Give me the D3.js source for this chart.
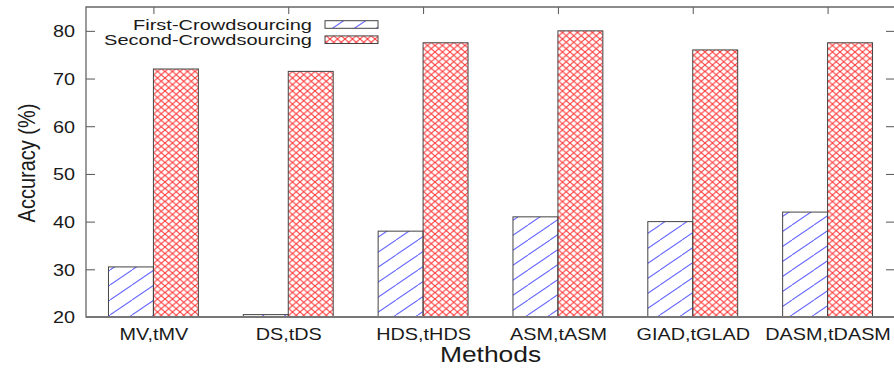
<!DOCTYPE html>
<html>
<head>
<meta charset="utf-8">
<script src="https://cdn.jsdelivr.net/npm/d3@7"></script>
<style>
  html, body { margin: 0; padding: 0; background: #fff; }
  svg { display: block; }
  text { font-family: "Liberation Sans", Arial, Helvetica, sans-serif; fill: #1a1a1a; }
</style>
</head>
<body>
<svg id="chart" width="894" height="368"></svg>
<script>
// Accuracy of each method pair, first vs. second crowdsourcing round
const methods = ["MV,tMV", "DS,tDS", "HDS,tHDS", "ASM,tASM", "GIAD,tGLAD", "DASM,tDASM"];
const firstRound = [30.5, 20.5, 38, 41, 40, 42];
const secondRound = [72, 71.5, 77.5, 80, 76, 77.5];
const seriesNames = ["First-Crowdsourcing", "Second-Crowdsourcing"];
const yTicks = [20, 30, 40, 50, 60, 70, 80];

const svg = d3.select("#chart");
const plotLeft = 86, plotRight = 895, plotTop = 7, plotBottom = 317;

const x = d3.scaleLinear().domain([-0.5, methods.length - 0.5]).range([plotLeft, plotRight]);
const y = d3.scaleLinear().domain([20, 85]).range([plotBottom, plotTop]);
const barW = (x(1) - x(0)) / 3;

// fill patterns: blue single hatch and red cross hatch
const defs = svg.append("defs");
const hatch = defs.append("pattern").attr("id", "hatchBlue")
  .attr("patternUnits", "userSpaceOnUse").attr("width", 22).attr("height", 15);
hatch.append("path")
  .attr("d", "M-22,15 L0,0 M0,15 L22,0 M22,15 L44,0")
  .attr("stroke", "#6a6aff").attr("stroke-width", 1.1).attr("fill", "none");

const cross = defs.append("pattern").attr("id", "crossRed")
  .attr("patternUnits", "userSpaceOnUse").attr("width", 7.5).attr("height", 6.5);
cross.append("path")
  .attr("d", "M0,0 L7.5,6.5 M0,6.5 L7.5,0")
  .attr("stroke", "#ff3b3b").attr("stroke-width", 1.1).attr("fill", "none");

const fills = ["url(#hatchBlue)", "url(#crossRed)"];
const textStretch = 1.24;

// axes with inward ticks
const gl = svg.append("g").attr("transform", `translate(${plotLeft},0)`)
  .call(d3.axisLeft(y).tickValues(yTicks).tickSizeInner(-9).tickSizeOuter(0).tickPadding(0));
gl.select(".domain").remove();
gl.selectAll(".tick line").attr("stroke", "#555");
gl.selectAll(".tick text")
  .attr("x", 0).attr("dy", "0.36em")
  .attr("text-anchor", "end")
  .attr("font-size", 16)
  .attr("fill", "#1a1a1a")
  .attr("transform", `translate(-11,0) scale(${textStretch},1)`);

const gr = svg.append("g").attr("transform", `translate(${plotRight},0)`)
  .call(d3.axisRight(y).tickValues(yTicks).tickSizeInner(-9).tickSizeOuter(0).tickFormat(""));
gr.select(".domain").remove();
gr.selectAll(".tick line").attr("stroke", "#555");

const centers = d3.range(methods.length);
const gt = svg.append("g").attr("transform", `translate(0,${plotTop})`)
  .call(d3.axisTop(x).tickValues(centers).tickSizeInner(-7).tickSizeOuter(0).tickFormat(""));
gt.select(".domain").remove();
gt.selectAll(".tick line").attr("stroke", "#555");

const gb = svg.append("g").attr("transform", `translate(0,${plotBottom})`)
  .call(d3.axisBottom(x).tickValues(centers).tickSize(0).tickFormat(i => methods[i]));
gb.select(".domain").remove();
gb.selectAll(".tick text")
  .attr("y", 0).attr("dy", 0)
  .attr("font-size", 16)
  .attr("fill", "#1a1a1a")
  .attr("transform", `translate(0,23) scale(${textStretch},1)`);

// bars
const series = [firstRound, secondRound];
series.forEach((vals, s) => {
  svg.append("g").selectAll("rect").data(vals).join("rect")
    .attr("x", (d, i) => x(i) - barW + s * barW)
    .attr("y", d => y(d))
    .attr("width", barW)
    .attr("height", d => y(20) - y(d))
    .attr("fill", fills[s])
    .attr("stroke", "#444")
    .attr("stroke-width", 1);
});

// frame
svg.append("path")
  .attr("d", `M${plotRight},${plotTop} L${plotLeft},${plotTop} L${plotLeft},${plotBottom} L${plotRight},${plotBottom}`)
  .attr("fill", "none").attr("stroke", "#666").attr("stroke-width", 1.3);
svg.append("line")
  .attr("x1", plotLeft).attr("x2", plotRight).attr("y1", plotBottom).attr("y2", plotBottom)
  .attr("stroke", "#777").attr("stroke-width", 2);

// legend
const legend = svg.append("g");
seriesNames.forEach((name, s) => {
  const cy = 24.5 + s * 15.2;
  legend.append("text")
    .attr("text-anchor", "end")
    .attr("font-size", 14.5)
    .attr("transform", `translate(312,${cy + 5}) scale(1.38,1)`)
    .text(name);
  legend.append("rect")
    .attr("x", 325).attr("y", cy - 3.8).attr("width", 53).attr("height", 7.6)
    .attr("fill", fills[s]).attr("stroke", "#444").attr("stroke-width", 1);
});

// axis titles
svg.append("text")
  .attr("text-anchor", "middle")
  .attr("font-size", 22)
  .attr("transform", `translate(${(plotLeft + plotRight) / 2},362) scale(1.2,1)`)
  .text("Methods");
svg.append("text")
  .attr("text-anchor", "middle")
  .attr("font-size", 20)
  .attr("transform", `translate(35,163) scale(1.2,1) rotate(-90)`)
  .text("Accuracy (%)");
</script>
</body>
</html>
